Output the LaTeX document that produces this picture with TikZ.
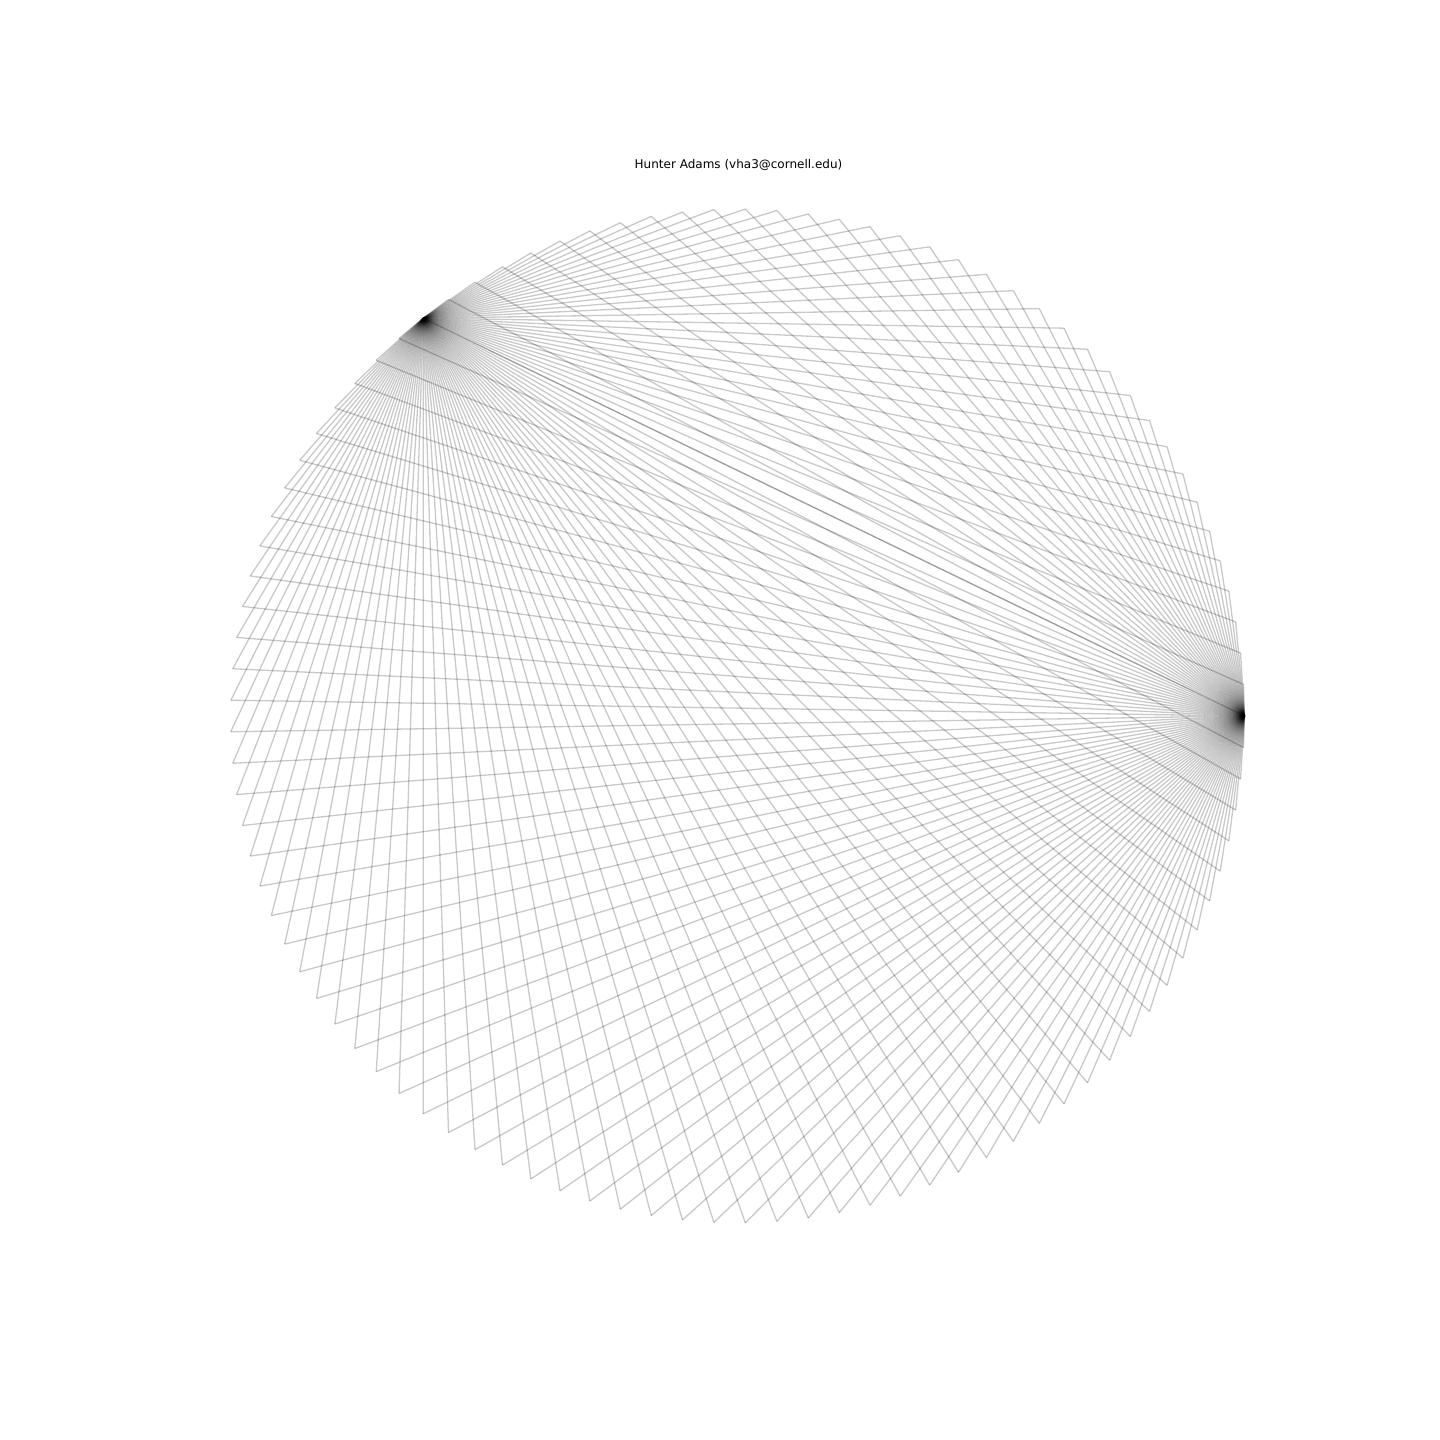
\documentclass[tikz,border=0pt]{standalone}
\usepackage{fontspec}
\setmainfont{DejaVu Sans}
\usetikzlibrary{calc}
\begin{document}
\begin{tikzpicture}[x=1pt,y=1pt,
  thread/.style={draw=black,draw opacity=0.21,line width=1.3pt},
  titlelabel/.style={font=\fontsize{12}{14}\selectfont,inner sep=0pt,anchor=center}]
\useasboundingbox[fill=white] (0,0) rectangle (1440,1440);
\coordinate (c) at (737.5,724);
\foreach \i in {0,...,100}{
  \coordinate (p\i) at ($(c)+({\i*3.5643564}:507)$);
}
\foreach \i in {1,...,100}{
  \draw[thread] (p\i) -- (p0);
}
\foreach \i in {0,...,100}{
  \ifnum\i=36\relax\else
    \draw[thread] (p\i) -- (p36);
  \fi
}
\node[titlelabel] (title) at (738.5,1275) {Hunter Adams (vha3@cornell.edu)};
\end{tikzpicture}
\end{document}
